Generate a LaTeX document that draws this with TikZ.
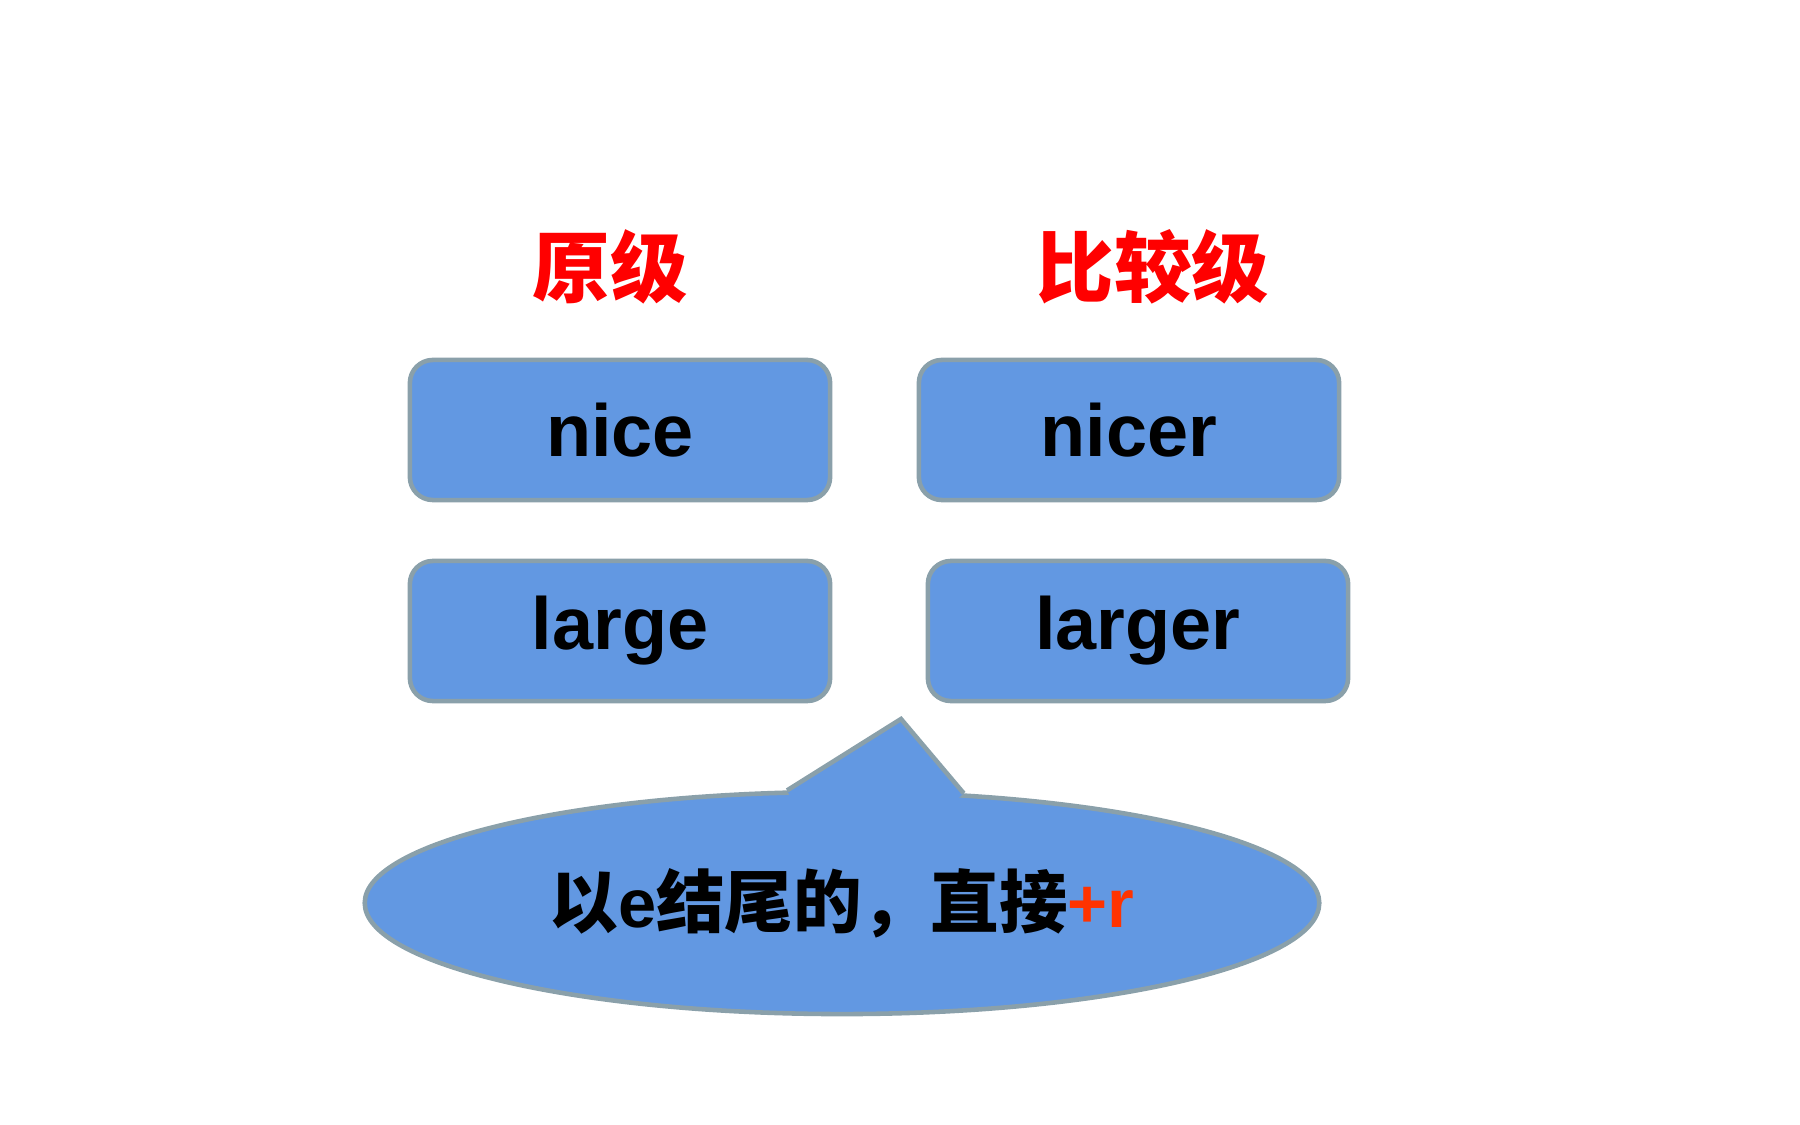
\documentclass[tikz,border=0pt]{standalone}
\usepackage{fontspec}
\setmainfont{Liberation Sans}
\newfontfamily\cjk{Noto Sans CJK SC}
\usetikzlibrary{shapes.geometric}
\definecolor{boxblue}{RGB}{98,152,226}
\definecolor{boxline}{RGB}{138,160,170}
\definecolor{plusred}{RGB}{255,51,0}
\tikzstyle{word} = [draw=boxline,line width=1.3pt,fill=boxblue,rounded corners=0.23cm,minimum width=4.2cm,minimum height=1.4cm,font=\fontsize{21}{25}\selectfont\bfseries]
\tikzstyle{title} = [text=red,font=\cjk\fontsize{22}{26}\selectfont\bfseries]
\tikzstyle{bubble} = [ellipse,draw=boxline,line width=1.3pt,fill=boxblue,minimum width=9.54cm,minimum height=2.22cm]
\begin{document}
\begin{tikzpicture}[x=0.01cm,y=-0.01cm]
\useasboundingbox (0,0) rectangle (1800,1125);

% headings
\node[title] (base) at (610,267) {原级};
\node[title] (comp) at (1153,267) {比较级};

% words
\node[word] (nice) at (620,430) {nice};
\node[word] (nicer) at (1129,430) {nicer};
\node[word] (large) at (620,631) {large};
\node[word] (larger) at (1138,631) {larger};

% callout
\node[bubble] (bubble) at (842,903) {};
\coordinate (tip) at (901,719);
\fill[boxblue] (bubble.116) -- (tip) -- (bubble.42) -- (bubble.center) -- cycle;
\draw[boxline,line width=1.3pt] (bubble.116) -- (tip) -- (bubble.42);
\node[font=\fontsize{19.5}{23}\selectfont\bfseries] (rule) at (bubble.center) {{\cjk 以}e{\cjk 结尾的，直接}\textcolor{plusred}{+r}};
\end{tikzpicture}
\end{document}
